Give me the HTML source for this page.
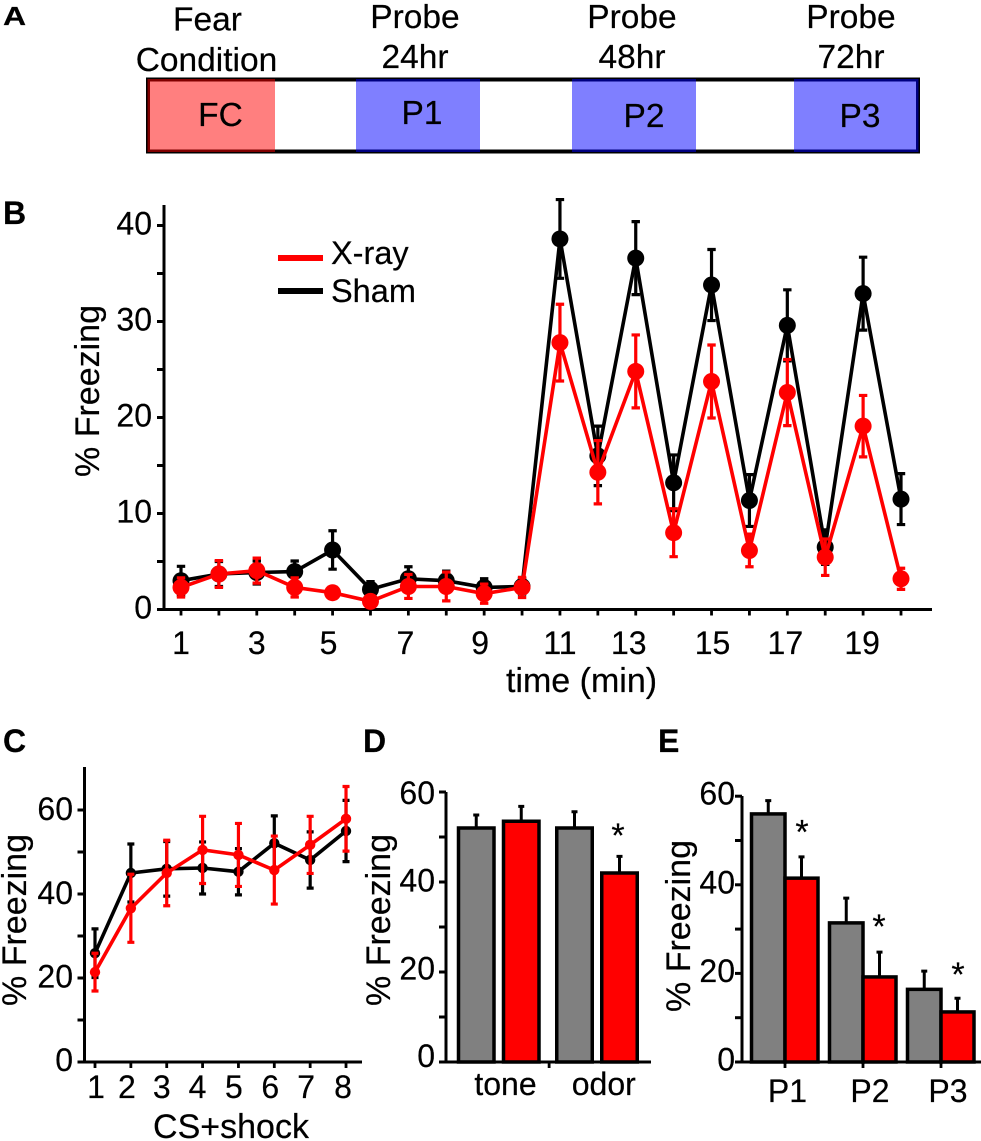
<!DOCTYPE html>
<html lang="en">
<head>
<meta charset="utf-8">
<title>Fear conditioning freezing results</title>
<style>
  html, body { margin: 0; padding: 0; background: #fff; }
  svg { display: block; }
  text { font-family: "Liberation Sans", Arial, sans-serif; fill: #000; stroke: #000; stroke-width: 0.2px; }
  .lbl { font-size: 32px; }
  .leg { font-size: 32.5px; }
  .ttl { font-size: 34px; }
  .tall { font-size: 33.5px; }
  .panel { font-size: 32px; font-weight: bold; }
  .ast { font-size: 34px; }
</style>
</head>
<body>
<svg id="figure" width="981" height="1141" viewBox="0 0 981 1141" xmlns="http://www.w3.org/2000/svg">
  <rect x="0" y="0" width="981" height="1141" fill="#fff"/>

  <text class="panel" transform="translate(3,25) scale(1,0.82)">A</text>
  <text class="panel" x="3" y="224">B</text>
  <text class="panel" x="3" y="752">C</text>
  <text class="panel" x="363" y="752">D</text>
  <text class="panel" x="658" y="752">E</text>

  <g id="panel-a">
    <text class="tall" x="207.5" y="30.5" text-anchor="middle">Fear</text>
    <text class="tall" x="206.5" y="71" text-anchor="middle">Condition</text>
    <text class="tall" x="415" y="28" text-anchor="middle">Probe</text>
    <text class="tall" x="415" y="68" text-anchor="middle">24hr</text>
    <text class="tall" x="632" y="28" text-anchor="middle">Probe</text>
    <text class="tall" x="632" y="68" text-anchor="middle">48hr</text>
    <text class="tall" x="851" y="28" text-anchor="middle">Probe</text>
    <text class="tall" x="851" y="68" text-anchor="middle">72hr</text>
    <rect x="148" y="79.5" width="770" height="72" fill="#fff" stroke="#000" stroke-width="4"/>
    <rect x="147.5" y="79" width="127.5" height="73" fill="#ff0000" fill-opacity="0.5"/>
    <rect x="356" y="79" width="124" height="73" fill="#0000ff" fill-opacity="0.5"/>
    <rect x="572" y="79" width="124" height="73" fill="#0000ff" fill-opacity="0.5"/>
    <rect x="794" y="79" width="124.5" height="73" fill="#0000ff" fill-opacity="0.5"/>
    <text class="tall" x="220.5" y="126" text-anchor="middle">FC</text>
    <text class="tall" x="422" y="124" text-anchor="middle">P1</text>
    <text class="tall" x="644" y="127" text-anchor="middle">P2</text>
    <text class="tall" x="860" y="127" text-anchor="middle">P3</text>
  </g>

  <g id="panel-b">
    <text class="ttl" transform="translate(99,391) rotate(-90)" text-anchor="middle">% Freezing</text>
    <text class="ttl" x="581.5" y="692" text-anchor="middle">time (min)</text>
    <line x1="278" y1="258" x2="323" y2="258" stroke="#ff0000" stroke-width="6"/>
    <line x1="278" y1="291" x2="323" y2="291" stroke="#000" stroke-width="6"/>
    <text class="leg" x="331" y="264">X-ray</text>
    <text class="leg" x="331" y="302">Sham</text>
  </g>

  <g id="panel-c">
    <text class="ttl" transform="translate(26,920) rotate(-90)" text-anchor="middle">% Freezing</text>
    <text class="ttl" x="231" y="1138" text-anchor="middle">CS+shock</text>
  </g>

  <g id="panel-d">
    <text class="ttl" transform="translate(390,920) rotate(-90)" text-anchor="middle">% Freezing</text>
    <text class="ast" x="618" y="847" text-anchor="middle">*</text>
  </g>

  <g id="panel-e">
    <text class="ttl" transform="translate(690,926) rotate(-90)" text-anchor="middle">% Freezing</text>
    <text class="ast" x="802" y="843.5" text-anchor="middle">*</text>
    <text class="ast" x="879" y="938" text-anchor="middle">*</text>
    <text class="ast" x="958" y="986" text-anchor="middle">*</text>
  </g>
</svg>

<script>
// Panel B: percent freezing per minute
const minutes = [1,2,3,4,5,6,7,8,9,10,11,12,13,14,15,16,17,18,19,20];
const shamFreezing = [3,3.7,3.85,3.95,6.2,2.1,3.2,3,2.3,2.4,38.6,16,36.6,13.2,33.8,11.35,29.6,6.5,32.9,11.5];
const shamError = [1.5,1.3,1.2,1.1,2,0.8,1.25,1,0.9,0.8,4.1,3.1,3.8,2.9,3.7,2.7,3.7,1.8,3.8,2.65];
const xrayFreezing = [2.3,3.7,4.05,2.3,1.75,0.85,2.4,2.4,1.65,2.3,27.8,14.3,24.8,8,23.75,6.15,22.6,5.45,19.1,3.2];
const xrayError = [1,1.4,1.3,1,0.4,0.4,1.25,1.5,1,1.05,4,3.3,3.8,2.5,3.8,1.7,3.45,1.9,3.2,1.1];
const minuteTicks = [1,2,3,4,5,6,7,8,9,10,11,12,13,14,15,16,17,18,19,20];
const minuteLabels = ["1","3","5","7","9","11","13","15","17","19"];
const freezingTicksB = [0,5,10,15,20,25,30,35,40];
const freezingLabelsB = ["0","10","20","30","40"];

// Panel C: percent freezing per CS+shock pairing
const pairings = [1,2,3,4,5,6,7,8];
const shamPairing = [25.9,45,46,46.2,45.3,52.1,48.1,55];
const shamPairingError = [5.8,6.9,6.5,6.2,5.5,6.5,6.7,7.3];
const xrayPairing = [21.4,36.6,45,50.5,49.3,45.7,51.7,57.9];
const xrayPairingError = [4.5,8.1,7.8,8,7.5,8.1,6.8,7.7];
const freezingTicksC = [0,10,20,30,40,50,60];
const freezingLabelsC = ["0","20","40","60"];

// Panel D: tone and odor recall
const recallCategories = ["tone","odor"];
const recallSham = [52,52];
const recallShamError = [2.9,3.6];
const recallXray = [53.5,42];
const recallXrayError = [3.3,3.7];
const freezingTicksD = [0,10,20,30,40,50,60];
const freezingLabelsD = ["0","20","40","60"];

// Panel E: probes P1 to P3
const probeCategories = ["P1","P2","P3"];
const probeSham = [56,31.4,16.4];
const probeShamError = [3,5.6,4.1];
const probeXray = [41.5,19.2,11.3];
const probeXrayError = [4.8,5.6,3.1];
const freezingTicksE = [0,10,20,30,40,50,60];
const freezingLabelsE = ["0","20","40","60"];

// Axis functions
const xB = v => 181 + (v - 1) * 37.895;
const yB = v => 609.5 - v * 9.6;
const xC = v => 95 + (v - 1) * 35.86;
const yC = v => 1062 - v * 4.2;
const yD = v => 1062 - v * 4.5;
const groupD = i => 499 + i * 98.25;
const yE = v => 1062 - v * 4.43;
const groupE = i => 785 + i * 78;

const NS = 'http://www.w3.org/2000/svg';
function make(parent, tag, attrs) {
  const el = document.createElementNS(NS, tag);
  for (const k in attrs) el.setAttribute(k, attrs[k]);
  parent.appendChild(el);
  return el;
}
const panelB = document.getElementById('panel-b');
const panelC = document.getElementById('panel-c');
const panelD = document.getElementById('panel-d');
const panelE = document.getElementById('panel-e');

function yAxis(parent, axisX, y0, yTop, yf, ticks, labels, labelRight, labelBase, labelSlope, axisName) {
  const spine = make(parent, 'line', {x1: axisX, y1: yTop, x2: axisX, y2: y0 + 1.5, stroke: '#000', 'stroke-width': 3});
  
  
  ticks.forEach(t => {
    const tk = make(parent, 'line', {x1: axisX - 7, y1: yf(t), x2: axisX, y2: yf(t), stroke: '#000', 'stroke-width': 3});
    
    
  });
  labels.forEach(s => {
    const v = Number(s);
    const lb = make(parent, 'text', {'class': 'lbl', x: labelRight, y: yf(v) + labelBase + v * labelSlope, 'text-anchor': 'end'});
    lb.textContent = s;
    
    
  });
}

function xAxisLine(parent, x1, x2, y, axisName) {
  const spine = make(parent, 'line', {x1: x1, y1: y, x2: x2, y2: y, stroke: '#000', 'stroke-width': 3});
  
  
}

function xTick(parent, x, y, axisName) {
  const tk = make(parent, 'line', {x1: x, y1: y, x2: x, y2: y + 6, stroke: '#000', 'stroke-width': 2.8});
  
  
}

function xLabel(parent, x, y, s, axisName) {
  const lb = make(parent, 'text', {'class': 'lbl', x: x, y: y, 'text-anchor': 'middle'});
  lb.textContent = s;
  
  
}

function series(parent, cats, vals, errs, color, xf, yf, radius, capHalf, seriesName) {
  const pts = cats.map((c, i) => xf(c).toFixed(1) + ',' + yf(vals[i]).toFixed(1)).join(' ');
  const line = make(parent, 'polyline', {points: pts, fill: 'none', stroke: color, 'stroke-width': 3.6, 'stroke-linejoin': 'miter'});
  
  
  cats.forEach((c, i) => {
    const x = xf(c);
    const hi = yf(vals[i] + errs[i]);
    const lo = yf(vals[i] - errs[i]);
    const d = 'M' + x + ' ' + hi + 'V' + lo + 'M' + (x - capHalf) + ' ' + hi + 'H' + (x + capHalf) + 'M' + (x - capHalf) + ' ' + lo + 'H' + (x + capHalf);
    const eb = make(parent, 'path', {d: d, fill: 'none', stroke: color, 'stroke-width': 3.2});
    
    
    const pt = make(parent, 'circle', {cx: x, cy: yf(vals[i]), r: radius, fill: color});
    
    
  });
}

function bar(parent, left, width, value, err, fill, yf, barName) {
  const base = yf(0);
  const cx = left + width / 2;
  const top = yf(value);
  const tip = yf(value + err);
  const eb = make(parent, 'path', {d: 'M' + cx + ' ' + top + 'V' + tip + 'M' + (cx - 3) + ' ' + tip + 'H' + (cx + 3), fill: 'none', stroke: '#000', 'stroke-width': 3});
  
  
  const r = make(parent, 'rect', {x: left, y: top, width: width, height: base - top, fill: fill, stroke: '#000', 'stroke-width': 3.5});
  
  
}

// Panel B
yAxis(panelB, 164, yB(0), 205, yB, freezingTicksB, freezingLabelsB, 152, 9, 0, 'y-axis-b');
xAxisLine(panelB, 158, 932, yB(0), 'x-axis-b');
minuteTicks.forEach(t => xTick(panelB, xB(t), yB(0), 'x-axis-b'));
const minuteNudge = {1: 0, 3: 0, 5: -4, 7: -3, 9: -4, 11: 0, 13: -7, 15: 1, 17: -2, 19: -1};
minuteLabels.forEach(s => xLabel(panelB, xB(Number(s)) + minuteNudge[s], 654, s, 'x-axis-b'));
series(panelB, minutes, shamFreezing, shamError, '#000', xB, yB, 8.5, 4.2, 'sham');
series(panelB, minutes, xrayFreezing, xrayError, '#ff0000', xB, yB, 8.5, 4.2, 'xray');

// Panel C
yAxis(panelC, 84.5, yC(0), 767, yC, freezingTicksC, freezingLabelsC, 73, 9, 0.02, 'y-axis-c');
xAxisLine(panelC, 80, 362, yC(0), 'x-axis-c');
pairings.forEach(t => xTick(panelC, xC(t), yC(0), 'x-axis-c'));
const pairingNudge = [1, -4, -5, -5, -4.5, -4, -4, -3];
pairings.forEach((t, i) => xLabel(panelC, xC(t) + pairingNudge[i], 1098, String(t), 'x-axis-c'));
series(panelC, pairings, shamPairing, shamPairingError, '#000', xC, yC, 5.2, 3.5, 'sham-pairing');
series(panelC, pairings, xrayPairing, xrayPairingError, '#ff0000', xC, yC, 5.2, 3.5, 'xray-pairing');

// Panel D
yAxis(panelD, 446, yD(0), 792, yD, freezingTicksD, freezingLabelsD, 435, 5, 0.117, 'y-axis-d');
xAxisLine(panelD, 439, 651, yD(0), 'x-axis-d');
xTick(panelD, (groupD(0) + groupD(1)) / 2 + 1, yD(0), 'x-axis-d');
recallCategories.forEach((c, i) => {
  const g = groupD(i);
  bar(panelD, g - 40.5, 35.5, recallSham[i], recallShamError[i], '#808080', yD, c + '-sham-bar');
  bar(panelD, g + 4.5, 35.5, recallXray[i], recallXrayError[i], '#ff0000', yD, c + '-xray-bar');
  xLabel(panelD, g + 6.5, 1095, c, 'x-axis-d');
});

// Panel E
const probeNudge = [2.5, 7, 7];
yAxis(panelE, 742, yE(0), 796, yE, freezingTicksE, freezingLabelsE, 735, 8.5, 0, 'y-axis-e');
xAxisLine(panelE, 736, 981, yE(0), 'x-axis-e');
probeCategories.forEach((c, i) => {
  const g = groupE(i);
  xTick(panelE, g, yE(0), 'x-axis-e');
  bar(panelE, g - 33.5, 33.5, probeSham[i], probeShamError[i], '#808080', yE, c + '-sham-bar');
  bar(panelE, g, 33, probeXray[i], probeXrayError[i], '#ff0000', yE, c + '-xray-bar');
  xLabel(panelE, g + probeNudge[i], 1102, c, 'x-axis-e');
});
</script>
</body>
</html>
